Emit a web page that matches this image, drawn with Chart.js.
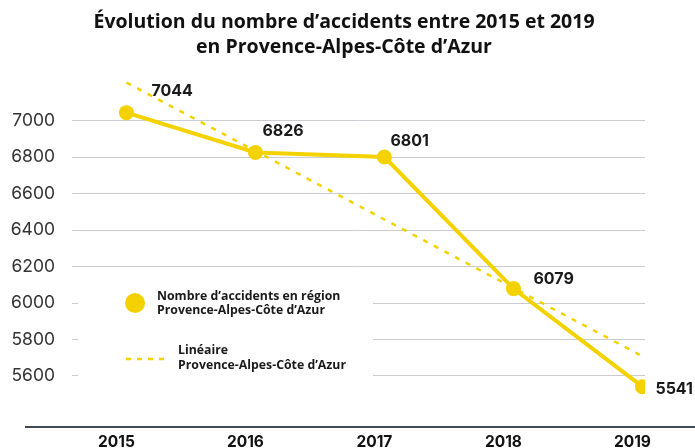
<!DOCTYPE html>
<html lang="fr">
<head>
<meta charset="utf-8">
<title>Évolution du nombre d'accidents</title>
<script src="https://cdn.jsdelivr.net/npm/chart.js@4.4.1/dist/chart.umd.min.js"></script>
<style>
    html, body { margin: 0; padding: 0; background: #ffffff; }
    #wrap { width: 695px; height: 448px; }
</style>
</head>
<body>
<div id="wrap"><canvas id="accidentsChart"></canvas></div>
<script>
// Chart data
const years = [2015, 2016, 2017, 2018, 2019];
const accidents = [7044, 6826, 6801, 6079, 5541];
const trendValues = [7209, 6834, 6458, 6083, 5708];
const yTicks = [5600, 5800, 6000, 6200, 6400, 6600, 6800, 7000];
const titleLines = ['Évolution du nombre d\u2019accidents entre 2015 et 2019', 'en Provence-Alpes-Côte d\u2019Azur'];
const legendSeries = ['Nombre d\u2019accidents en région', 'Provence-Alpes-Côte d\u2019Azur'];
const legendTrend = ['Linéaire', 'Provence-Alpes-Côte d\u2019Azur'];

const YELLOW = '#f4d200';
const FONT = "'Open Sans', 'DejaVu Sans', sans-serif";
const NUM_FONT = "Inter, 'Open Sans', sans-serif";

// offsets of the value labels from their points
const labelOffsets = [[25, -21], [7, -21], [6, -16], [20, -9], [13, 2]];

// two-line title, centred like the original
const titleBlock = {
    id: 'titleBlock',
    afterDraw(chart) {
        const ctx = chart.ctx;
        ctx.save();
        ctx.font = '700 19.5px ' + FONT;
        ctx.fillStyle = '#111111';
        ctx.textAlign = 'center';
        ctx.textBaseline = 'middle';
        ctx.fillText(titleLines[0], 344, 22);
        ctx.fillText(titleLines[1], 344, 47);
        ctx.restore();
    }
};

const valueLabels = {
    id: 'valueLabels',
    afterDatasetsDraw(chart) {
        const ctx = chart.ctx;
        const meta = chart.getDatasetMeta(0);
        ctx.save();
        ctx.font = '700 16px ' + NUM_FONT;
        ctx.fillStyle = '#1a1a1a';
        ctx.textAlign = 'left';
        ctx.textBaseline = 'middle';
        meta.data.forEach((pt, i) => {
            ctx.fillText(String(accidents[i]), pt.x + labelOffsets[i][0], pt.y + labelOffsets[i][1]);
        });
        ctx.restore();
    }
};

// legend box drawn inside the plot, hiding the grid lines behind it
const insideLegend = {
    id: 'insideLegend',
    beforeDatasetsDraw(chart) {
        const ctx = chart.ctx;
        ctx.save();
        ctx.fillStyle = '#ffffff';
        ctx.fillRect(78, 268, 295, 116);

        ctx.fillStyle = YELLOW;
        ctx.beginPath();
        ctx.arc(135, 303, 10, 0, Math.PI * 2);
        ctx.fill();

        ctx.strokeStyle = YELLOW;
        ctx.lineWidth = 2.5;
        ctx.setLineDash([5, 6]);
        ctx.beginPath();
        ctx.moveTo(126, 359);
        ctx.lineTo(168, 359);
        ctx.stroke();
        ctx.setLineDash([]);

        ctx.fillStyle = '#1a1a1a';
        ctx.font = '700 12.3px ' + FONT;
        ctx.textBaseline = 'middle';
        ctx.fillText(legendSeries[0], 157, 296);
        ctx.fillText(legendSeries[1], 157, 310);
        ctx.fillText(legendTrend[0], 178, 350);
        ctx.fillText(legendTrend[1], 178, 365);
        ctx.restore();
    }
};

// dark base line under the plot
const baseLine = {
    id: 'baseLine',
    afterDraw(chart) {
        const ctx = chart.ctx;
        const y = chart.chartArea.bottom;
        ctx.save();
        ctx.strokeStyle = '#3d4852';
        ctx.lineWidth = 2;
        ctx.beginPath();
        ctx.moveTo(25, y);
        ctx.lineTo(chart.width, y);
        ctx.stroke();
        ctx.restore();
    }
};

const ctx = document.getElementById('accidentsChart').getContext('2d');
const accidentsChart = new Chart(ctx, {
    type: 'line',
    data: {
        datasets: [{
            label: legendSeries.join(' '),
            data: years.map((y, i) => ({ x: y, y: accidents[i] })),
            borderColor: YELLOW,
            backgroundColor: YELLOW,
            borderWidth: 4,
            pointRadius: 7.5,
            pointBorderWidth: 0,
            pointHoverRadius: 7.5,
            tension: 0
        }, {
            label: legendTrend.join(' '),
            data: years.map((y, i) => ({ x: y, y: trendValues[i] })),
            borderColor: YELLOW,
            borderWidth: 2.5,
            borderDash: [5, 7],
            pointRadius: 0,
            tension: 0
        }]
    },
    options: {
        responsive: true,
        maintainAspectRatio: false,
        animation: false,
        layout: { padding: { top: 66, left: 0, right: 50, bottom: 0 } },
        plugins: {
            legend: { display: false },
            tooltip: { enabled: false },
            title: { display: false }
        },
        scales: {
            x: {
                type: 'linear',
                min: 2014.578,
                max: 2019.02,
                afterBuildTicks: scale => { scale.ticks = years.map(v => ({ value: v })); },
                afterFit: scale => { scale.height = 21; scale.paddingLeft = 0; scale.paddingRight = 0; },
                grid: { display: false, drawTicks: false },
                border: { display: false },
                ticks: {
                    color: '#111111',
                    font: { family: NUM_FONT, size: 15.5, weight: '700', lineHeight: 1 },
                    padding: 8,
                    labelOffset: -10,
                    maxRotation: 0,
                    callback: v => String(v)
                }
            },
            y: {
                min: 5320,
                max: 7300,
                afterBuildTicks: scale => { scale.ticks = yTicks.map(v => ({ value: v })); },
                afterFit: scale => { scale.width = 72; scale.paddingTop = 0; scale.paddingBottom = 0; },
                grid: { color: '#c9ccd1', lineWidth: 1, drawTicks: false },
                border: { display: false },
                ticks: {
                    color: '#333333',
                    font: { family: NUM_FONT, size: 17.5 },
                    padding: 17,
                    callback: v => String(v)
                }
            }
        }
    },
    plugins: [insideLegend, valueLabels, baseLine, titleBlock]
});
</script>
</body>
</html>
